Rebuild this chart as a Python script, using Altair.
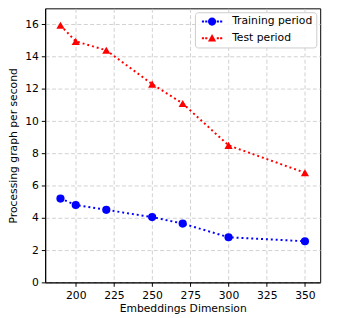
import altair as alt
import pandas as pd

dims = [190, 200, 220, 250, 270, 300, 350]
train = [5.2, 4.8, 4.5, 4.05, 3.65, 2.8, 2.55]
test = [15.95, 14.95, 14.4, 12.3, 11.1, 8.5, 6.8]
series = ["Training period", "Test period"]
colors = ["#0000ff", "#ff0000"]

rows = []
for d, v in zip(dims, train):
    rows.append({"dim": d, "val": v, "series": series[0]})
for d, v in zip(dims, test):
    rows.append({"dim": d, "val": v, "series": series[1]})
df = pd.DataFrame(rows)

FONT = "DejaVu Sans"

dots = ("M -2.6 -0.25 h 0.55 v 0.5 h -0.55 Z "
        "M -1.75 -0.25 h 0.55 v 0.5 h -0.55 Z "
        "M 1.2 -0.25 h 0.55 v 0.5 h -0.55 Z "
        "M 2.05 -0.25 h 0.55 v 0.5 h -0.55 Z ")
circle_path = dots + "M -1.05 0 A 1.05 1.05 0 1 0 1.05 0 A 1.05 1.05 0 1 0 -1.05 0 Z"
tri_path = dots + "M 0 -1.1 L 1.05 0.85 L -1.05 0.85 Z"

x = alt.X("dim:Q", title="Embeddings Dimension",
          scale=alt.Scale(domain=[180, 360], nice=False, zero=False),
          axis=alt.Axis(values=[200, 225, 250, 275, 300, 325, 350]))
y = alt.Y("val:Q", title="Processing graph per second",
          scale=alt.Scale(domain=[0, 17], nice=False),
          axis=alt.Axis(values=[0, 2, 4, 6, 8, 10, 12, 14, 16]))
cscale = alt.Scale(domain=series, range=colors)

lines = alt.Chart(df).mark_line(strokeWidth=2, strokeDash=[2, 3], strokeCap="butt").encode(
    x=x, y=y, color=alt.Color("series:N", scale=cscale, legend=None), detail="series:N")

points = alt.Chart(df).mark_point(filled=True, size=70, opacity=1).encode(
    x=x, y=y,
    color=alt.Color("series:N", scale=cscale, legend=None),
    shape=alt.Shape("series:N", scale=alt.Scale(domain=series, range=["circle", "triangle-up"]), legend=None),
)

legend_cfg = dict(title=None, orient="top-right", offset=4,
                  padding=4, symbolSize=64, symbolStrokeWidth=0, symbolOpacity=1,
                  symbolOffset=8, labelOffset=15, rowPadding=5, labelFontSize=11,
                  labelFont=FONT, labelColor="#000000",
                  fillColor="rgba(255,255,255,0.85)", strokeColor="#cccccc",
                  cornerRadius=3)

legend_layer = alt.Chart(df).transform_filter("false").mark_point(filled=True, size=64, opacity=1).encode(
    x=x, y=y,
    color=alt.Color("series:N", scale=cscale, legend=alt.Legend(**legend_cfg)),
    shape=alt.Shape("series:N", scale=alt.Scale(domain=series, range=[circle_path, tri_path]),
                    legend=alt.Legend(**legend_cfg)),
)

chart = alt.layer(lines, points, legend_layer).resolve_scale(
    shape="independent", color="independent"
).properties(
    width=281, height=280,
    autosize=alt.AutoSizeParams(type="none"),
    padding={"left": 38, "top": -3, "right": 10, "bottom": 31},
).configure_view(stroke="#000000", strokeWidth=1).configure_axis(
    grid=True, gridColor="#c4c4c4", gridDash=[4, 2.5], gridWidth=0.8,
    domainColor="#000000", tickColor="#000000", tickSize=4, tickWidth=1,
    labelFont=FONT, labelFontSize=11, labelColor="#000000", labelPadding=3,
    titleFont=FONT, titleFontSize=11, titleFontWeight="normal", titleColor="#000000",
).configure_axisX(titlePadding=3).configure_axisY(titlePadding=6)

chart.save("out.html", embed_options={"renderer": "svg", "actions": False})
